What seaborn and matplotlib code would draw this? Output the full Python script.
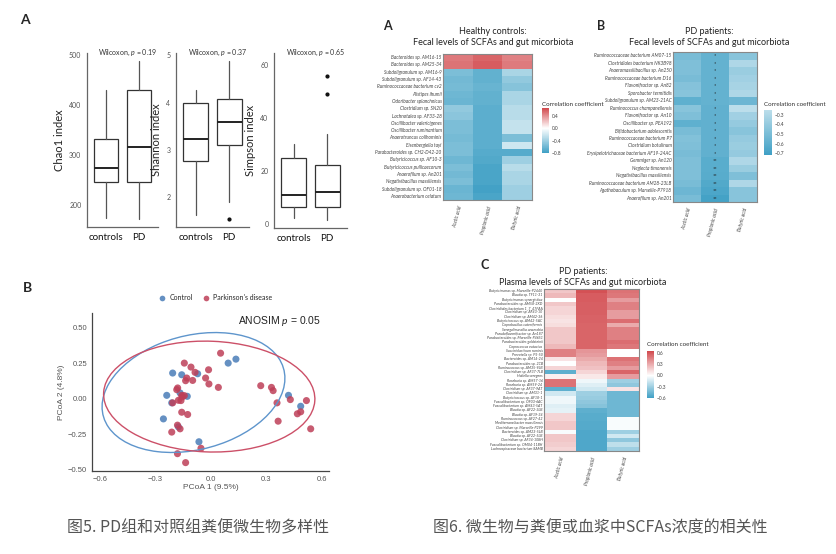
import numpy as np
import pandas as pd
import matplotlib
matplotlib.use("Agg")
import matplotlib.pyplot as plt
import seaborn as sns
from matplotlib.colors import LinearSegmentedColormap, ListedColormap
from matplotlib.patches import Ellipse

# ---- Fig 5A: alpha diversity (whisker low, q1, median, q3, whisker high) ----
groups = ["controls", "PD"]
chao1_ctrl = [173, 245, 273, 332, 430]
chao1_pd = [171, 245, 316, 431, 488]
shannon_ctrl = [1.62, 2.77, 3.23, 4.00, 4.26]
shannon_pd = [1.90, 3.10, 3.59, 4.08, 4.87]
shannon_pd_out = [1.53]
simpson_ctrl = [2.3, 6.4, 10.9, 24.8, 30.0]
simpson_pd = [1.5, 6.4, 12.0, 22.1, 34.0]
simpson_pd_out = [49.0, 56.0]
p_values = ["0.19", "0.37", "0.65"]

# ---- Fig 5B: PCoA ----
ctrl_x = [-0.207, -0.158, -0.072, 0.093, 0.135, -0.239, -0.212, -0.167, -0.128,
          -0.257, -0.176, -0.065, 0.419, 0.485]
ctrl_y = [0.180, 0.168, 0.175, 0.250, 0.278, 0.023, -0.030, 0.040, 0.016,
          -0.143, -0.199, -0.304, 0.023, -0.054]
pd_x = [0.052, -0.144, -0.108, -0.086, -0.131, -0.137, -0.099, -0.013, -0.029,
        -0.011, 0.040, -0.185, -0.180, -0.158, -0.155, -0.176, -0.162, -0.207,
        -0.144, -0.158, -0.126, -0.181, -0.167, -0.212, -0.181, -0.054, -0.137,
        0.269, 0.327, 0.336, 0.357, 0.363, 0.429, 0.467, 0.485, 0.516, 0.539]
pd_y = [0.320, 0.250, 0.222, 0.185, 0.145, 0.126, 0.128, 0.203, 0.145,
        0.103, 0.079, 0.063, 0.075, 0.023, 0.012, -0.012, -0.014, -0.030,
        0.021, -0.096, -0.112, -0.187, -0.213, -0.236, -0.388, -0.350, -0.451,
        0.091, 0.079, 0.056, -0.030, -0.159, -0.007, -0.107, -0.093, -0.014, -0.213]

# ---- Fig 6: correlation heatmaps ----
acids = ["Acetic acid", "Propionic acid", "Butyric acid"]

hc_rows = ["Bacteroides sp. AM16-15", "Bacteroides sp. AM25-34", "Subdoligranulum sp. AM16-9",
           "Subdoligranulum sp. AF14-43", "Ruminococcaceae bacterium cv2", "Alistipes ihumii",
           "Odoribacter splanchnicus", "Clostridium sp. SN20", "Lachnotalea sp. AF33-28",
           "Oscillibacter valericigenes", "Oscillibacter ruminantium", "Anaerotruncus colihominis",
           "Eisenbergiella tayi", "Parabacteroides sp. CH2-D42-20", "Butyricicoccus sp. AF10-3",
           "Butyricicoccus pullicaecorum", "Anaerofilum sp. An201", "Negativibacillus massiliensis",
           "Subdoligranulum sp. OF01-18", "Anaerobacterium celatum"]
hc_acetic = [0.48, 0.50, -0.55, -0.58, -0.57, -0.60, -0.62, -0.45, -0.48, -0.55,
             -0.55, -0.57, -0.55, -0.55, -0.60, -0.55, -0.58, -0.55, -0.62, -0.60]
hc_propionic = [0.55, 0.58, -0.65, -0.65, -0.63, -0.65, -0.65, -0.68, -0.68, -0.68,
                -0.68, -0.68, -0.68, -0.70, -0.72, -0.75, -0.75, -0.75, -0.78, -0.75]
hc_butyric = [0.45, 0.47, -0.35, -0.45, -0.50, -0.35, -0.35, -0.30, -0.30, -0.25,
              -0.25, -0.55, -0.20, -0.70, -0.40, -0.30, -0.35, -0.35, -0.40, -0.40]

pdf_rows = ["Ruminococcaceae bacterium AM07-15", "Clostridiales bacterium NK3B98",
            "Anaeromassilibacillus sp. An250", "Ruminococcaceae bacterium D16",
            "Flavonifractor sp. An82", "Sporobacter termitidis", "Subdoligranulum sp. AM23-21AC",
            "Ruminococcus champanellensis", "Flavonifractor sp. An10", "Oscillibacter sp. PEA192",
            "Bifidobacterium adolescentis", "Ruminococcaceae bacterium P7", "Clostridium botulinum",
            "Erysipelotrichaceae bacterium AF19-24AC", "Gemmiger sp. An120", "Neglecta timonensis",
            "Negativibacillus massiliensis", "Ruminococcaceae bacterium AM28-23LB",
            "Agathobaculum sp. Marseille-P7918", "Anaerofilum sp. An201"]
pdf_acetic = [-0.50, -0.48, -0.48, -0.50, -0.46, -0.45, -0.60, -0.45, -0.48, -0.60,
              -0.50, -0.47, -0.48, -0.50, -0.48, -0.48, -0.48, -0.50, -0.55, -0.50]
pdf_propionic = [-0.58, -0.58, -0.58, -0.58, -0.58, -0.58, -0.58, -0.59, -0.59, -0.59,
                 -0.59, -0.59, -0.59, -0.59, -0.62, -0.62, -0.63, -0.65, -0.67, -0.70]
pdf_butyric = [-0.45, -0.30, -0.38, -0.35, -0.33, -0.30, -0.55, -0.25, -0.35, -0.40,
               -0.45, -0.40, -0.38, -0.40, -0.30, -0.38, -0.48, -0.30, -0.45, -0.45]
pdf_stars = ["*", "*", "*", "*", "*", "*", "*", "*", "*", "*", "*", "*", "*", "*",
             "**", "**", "**", "**", "**", "**"]

plasma_rows = ["Butyricimonas sp. Marseille-P2440", "Blautia sp. TF11-31", "Butyricimonas synergistica",
               "Parabacteroides sp. AM58-2XD", "Clostridiales bacterium 1_7_47FAA", "Clostridium sp. AF43-10",
               "Clostridium sp. AM42-36", "Butyricicoccus sp. AM42-5AC", "Coprobacillus cateniformis",
               "Senegalimassilia anaerobia", "Pseudoflavonifractor sp. An187",
               "Parabacteroides sp. Marseille-P4651", "Parabacteroides goldsteinii", "Coprococcus eutactus",
               "Succiniclasticum ruminis", "Prevotella sp. P5-50", "Bacteroides sp. AM14-24",
               "Parabacteroides sp. 2CB", "Ruminococcus sp. AM35-9LB", "Clostridium sp. AF37-7LB",
               "Hallella seregens", "Roseburia sp. AM57-16", "Roseburia sp. AM59-24",
               "Clostridium sp. AF37-9AT", "Clostridium sp. AM31-1", "Butyricicoccus sp. AF18-1",
               "Faecalibacterium sp. OF03-6AC", "Faecalibacterium sp. AM43-5AT", "Blautia sp. AF22-3LB",
               "Blautia sp. AF19-34", "Ruminococcus sp. AF27-42", "Mediterraneibacter massiliensis",
               "Clostridium sp. Marseille-P299", "Bacteroides sp. AM23-5LB", "Blautia sp. AF22-5LB",
               "Clostridium sp. AF34-10BH", "Faecalibacterium sp. OM04-11BH",
               "Lachnospiraceae bacterium 8AMB"]
plasma_acetic = [0.20, 0.25, 0.00, 0.20, 0.15, 0.15, 0.12, 0.10, 0.12, 0.20,
                 0.20, 0.20, 0.20, 0.25, 0.45, 0.45, 0.10, 0.00, 0.15, -0.50,
                 0.05, 0.50, 0.50, -0.50, -0.15, -0.05, -0.05, -0.10, -0.08, 0.15,
                 0.15, 0.20, 0.20, -0.02, 0.20, 0.20, 0.18, 0.15]
plasma_propionic = [0.62, 0.58, 0.58, 0.57, 0.57, 0.57, 0.56, 0.56, 0.55, 0.55,
                    0.55, 0.55, 0.55, 0.55, 0.38, 0.35, 0.30, 0.25, 0.22, 0.15,
                    0.08, -0.05, -0.10, -0.15, -0.30, -0.32, -0.35, -0.38, -0.50, -0.52,
                    -0.52, -0.53, -0.53, -0.55, -0.55, -0.55, -0.55, -0.55]
plasma_butyric = [0.50, 0.48, 0.35, 0.45, 0.45, 0.35, 0.35, 0.52, 0.30, 0.45,
                  0.45, 0.45, 0.52, 0.48, 0.00, 0.00, 0.50, 0.45, 0.35, 0.55,
                  0.35, -0.30, -0.35, 0.10, -0.45, -0.45, -0.45, -0.45, -0.45, -0.45,
                  -0.02, -0.02, -0.02, -0.30, -0.15, -0.35, -0.20, -0.30]

captions = ["图5. PD组和对照组粪便微生物多样性", "图6. 微生物与粪便或血浆中SCFAs浓度的相关性"]

# ---------------------------------------------------------------------------
sns.set_theme(style="white")
plt.rcParams["font.family"] = ["Lato", "Noto Sans CJK SC", "DejaVu Sans"]
plt.rcParams["mathtext.fontset"] = "custom"
plt.rcParams["mathtext.it"] = "Lato:italic"

W, H = 837, 554
fig = plt.figure(figsize=(W / 100, H / 100), dpi=100)
fig.patch.set_facecolor("white")


def box(l, t, r, b):
    return [l / W, 1 - b / H, (r - l) / W, (b - t) / H]


def ftext(x, y, s, **kw):
    fig.text(x / W, 1 - y / H, s, **kw)


# ---- boxplots ----
def stats(v, fliers=()):
    return dict(whislo=v[0], q1=v[1], med=v[2], q3=v[3], whishi=v[4], fliers=list(fliers))


panels = [
    ((87, 53, 158, 227), [stats(chao1_ctrl), stats(chao1_pd)], (155, 505), [200, 300, 400, 500], "Chao1 index"),
    ((176, 53, 249, 227), [stats(shannon_ctrl), stats(shannon_pd, shannon_pd_out)], (1.36, 5.05), [2, 3, 4, 5], "Shannon index"),
    ((274, 53, 347, 228), [stats(simpson_ctrl), stats(simpson_pd, simpson_pd_out)], (-1.5, 64.5), [0, 20, 40, 60], "Simpson index"),
]
for (rect, st, ylim, yt, ylab), pv in zip(panels, p_values):
    ax = fig.add_axes(box(*rect))
    ax.bxp(st, positions=[0, 1], widths=0.75, showcaps=False, patch_artist=True,
           boxprops=dict(facecolor="white", edgecolor="#333333", linewidth=0.9),
           whiskerprops=dict(color="#555555", linewidth=0.9),
           medianprops=dict(color="#222222", linewidth=1.4),
           flierprops=dict(marker="o", markersize=2, markerfacecolor="#111111", markeredgecolor="#111111"))
    ax.set_xlim(-0.6, 1.6)
    ax.set_ylim(*ylim)
    ax.set_yticks(yt)
    ax.set_xticks([0, 1])
    ax.set_xticklabels(groups, fontsize=7, color="#111111")
    ax.tick_params(axis="y", labelsize=5, colors="#555555", length=2, width=0.6, pad=2)
    ax.tick_params(axis="x", length=2, width=0.6, pad=2)
    ax.set_ylabel(ylab, fontsize=8, color="#222222", labelpad=3)
    for s in ["top", "right"]:
        ax.spines[s].set_visible(False)
    for s in ["left", "bottom"]:
        ax.spines[s].set_color("#666666")
        ax.spines[s].set_linewidth(0.9)
    ax.text(-0.25, 1.0, r"Wilcoxon, $p$ = " + pv, transform=ax.get_xaxis_transform(),
            fontsize=5, color="#333333", ha="left", va="center", clip_on=False)
    ax.patch.set_alpha(0)

ftext(25, 20, "A", fontsize=10, fontweight="bold", ha="center", va="center")
ftext(28, 288, "B", fontsize=10, fontweight="bold", ha="center", va="center")

# ---- PCoA scatter ----
c_blue, c_red = "#4A7DB8", "#BE3F58"
pcoa = pd.DataFrame({
    "PC1": ctrl_x + pd_x,
    "PC2": ctrl_y + pd_y,
    "group": ["Control"] * len(ctrl_x) + ["Parkinson's disease"] * len(pd_x),
})
axs = fig.add_axes(box(92, 313, 329, 471))
sns.scatterplot(data=pcoa, x="PC1", y="PC2", hue="group", palette=[c_blue, c_red],
                s=26, alpha=0.85, edgecolor="none", ax=axs)


def cov_trob(X, nu=5, iters=100):
    # robust t covariance, as used by ggplot2::stat_ellipse (type = "t")
    n, p = X.shape
    w = np.ones(n)
    for _ in range(iters):
        mu = (w[:, None] * X).sum(0) / w.sum()
        D = X - mu
        S = (w[:, None] * D).T @ D / n
        d = np.einsum("ij,jk,ik->i", D, np.linalg.inv(S), D)
        w = (nu + p) / (nu + d)
    return mu, S


# sqrt(2 * qf(0.95, 2, n - 1)) for n = 14 and n = 37
radius = {"Control": np.sqrt(2 * 3.806), "Parkinson's disease": np.sqrt(2 * 3.259)}
for g, col in [("Control", "#5E95CC"), ("Parkinson's disease", "#CC5068")]:
    sub = pcoa[pcoa.group == g][["PC1", "PC2"]].to_numpy()
    mu, S = cov_trob(sub)
    vals, vecs = np.linalg.eigh(S)
    ang = np.degrees(np.arctan2(vecs[1, 1], vecs[0, 1]))
    r = radius[g]
    axs.add_patch(Ellipse(mu, 2 * r * np.sqrt(vals[1]), 2 * r * np.sqrt(vals[0]), angle=ang,
                          fill=False, edgecolor=col, linewidth=1.0))

axs.set_xlim(-0.643, 0.638)
axs.set_ylim(-0.51, 0.603)
axs.set_xticks([-0.6, -0.3, 0.0, 0.3, 0.6])
axs.set_xticklabels(["\u22120.6", "\u22120.3", "0.0", "0.3", "0.6"])
axs.set_yticks([0.5, 0.25, 0.0, -0.25, -0.5])
axs.set_yticklabels(["0.50", "0.25", "0.00", "\u22120.25", "\u22120.50"])
axs.tick_params(labelsize=5.5, colors="#555555", length=2, width=0.6, pad=1.5)
for t in axs.get_xticklabels() + axs.get_yticklabels():
    t.set_fontfamily(["Liberation Sans", "DejaVu Sans"])
axs.set_xlabel("PCoA 1 (9.5%)", fontsize=6, color="#555555", labelpad=1,
               fontfamily=["Liberation Sans", "DejaVu Sans"])
axs.set_ylabel("PCoA 2 (4.8%)", fontsize=6, color="#555555", labelpad=2,
               fontfamily=["Liberation Sans", "DejaVu Sans"])
for s in ["top", "right"]:
    axs.spines[s].set_visible(False)
for s in ["left", "bottom"]:
    axs.spines[s].set_color("#444444")
    axs.spines[s].set_linewidth(0.9)
axs.text(0.145, 0.548, r"ANOSIM $p$ = 0.05", fontsize=7.5, color="#222222", ha="left", va="center",
         fontfamily=["Liberation Sans", "DejaVu Sans"])
sns.move_legend(axs, "center", bbox_to_anchor=(214 / W, 1 - 298 / H), bbox_transform=fig.transFigure,
                ncol=2, title=None, frameon=False, fontsize=5, handletextpad=0.1,
                columnspacing=0.8, markerscale=0.8)
axs.patch.set_alpha(0)

# ---- heatmaps ----
base = LinearSegmentedColormap.from_list("rb", ["#40A0C5", "#FFFFFF", "#D24A4E"])


def sub_cmap(lo, hi, m_neg, m_pos):
    # white-centred gradient, each side scaled to its own limit, cut to [lo, hi]
    pos = np.linspace(lo, hi, 256)
    frac = np.where(pos < 0, 0.5 + pos / (2 * m_neg), 0.5 + pos / (2 * m_pos))
    return ListedColormap(base(np.clip(frac, 0, 1)))


def heat(rect, crect, vals, rows, lo, hi, mn, mp, ticks, tlabels, title, tpos, ctpos,
         rowsize, annot=None):
    ax = fig.add_axes(box(*rect))
    cax = fig.add_axes(box(*crect))
    df = pd.DataFrame(np.array(vals).T, index=rows, columns=acids)
    sns.heatmap(df, ax=ax, cbar_ax=cax, cmap=sub_cmap(lo, hi, mn, mp), vmin=lo, vmax=hi,
                annot=annot, fmt="", annot_kws={"size": 4, "color": "#222222"},
                cbar_kws={"ticks": ticks})
    ax.set_yticks(np.arange(len(rows)) + 0.5)
    ax.set_yticklabels(rows, fontsize=rowsize, style="italic", color="#444444", rotation=0)
    ax.set_xticklabels(acids, fontsize=3.5, style="italic", color="#444444", rotation=75,
                       ha="right", rotation_mode="anchor")
    ax.tick_params(length=0, pad=1)
    ax.tick_params(axis="x", pad=4)
    for s in ax.spines.values():
        s.set_visible(True)
        s.set_color("#888888")
        s.set_linewidth(0.8)
    cax.set_yticklabels(tlabels)
    cax.tick_params(labelsize=3.5, colors="#444444", length=0, pad=2)
    cax.set_frame_on(False)
    ftext(tpos[0], tpos[1], title, fontsize=6.5, ha="center", va="center",
          linespacing=1.35, color="#222222")
    ftext(ctpos[0], ctpos[1], "Correlation coefficient", fontsize=4.5, ha="left",
          va="center", color="#333333")


heat((443, 54, 532, 200), (542, 108, 549, 153), [hc_acetic, hc_propionic, hc_butyric], hc_rows,
     -0.8, 0.65, 0.8, 0.65, [0.4, 0.0, -0.4, -0.8], ["0.4", "0.0", "\u22120.4", "\u22120.8"],
     "Healthy controls:\nFecal levels of SCFAs and gut micorbiota", (493, 37), (542, 104), 3.4)

stars = np.array([[""] * len(pdf_rows), pdf_stars, [""] * len(pdf_rows)]).T
heat((673, 52, 757, 202), (764, 110, 772, 155), [pdf_acetic, pdf_propionic, pdf_butyric], pdf_rows,
     -0.72, -0.25, 0.72, 0.72, [-0.3, -0.4, -0.5, -0.6, -0.7],
     ["\u22120.3", "\u22120.4", "\u22120.5", "\u22120.6", "\u22120.7"],
     "PD patients:\nFecal levels of SCFAs and gut micorbiota", (709, 37), (764, 104), 3.4,
     annot=stars)

heat((544, 289, 639, 451), (647, 351, 654, 398), [plasma_acetic, plasma_propionic, plasma_butyric],
     plasma_rows, -0.6, 0.65, 0.6, 0.65, [0.6, 0.3, 0.0, -0.3, -0.6],
     ["0.6", "0.3", "0.0", "\u22120.3", "\u22120.6"],
     "PD patients:\nPlasma levels of SCFAs and gut micorbiota", (583, 277), (647, 344), 2.6)

ftext(387, 26, "A", fontsize=9, fontweight="bold", ha="center", va="center")
ftext(601, 26, "B", fontsize=9, fontweight="bold", ha="center", va="center")
ftext(485, 265, "C", fontsize=9, fontweight="bold", ha="center", va="center")

# ---- captions ----
ftext(198, 528, captions[0], fontsize=11.5, color="#555555", ha="center", va="center",
      fontfamily=["Noto Sans CJK SC", "DejaVu Sans"])
ftext(600, 528, captions[1], fontsize=11.5, color="#555555", ha="center", va="center",
      fontfamily=["Noto Sans CJK SC", "DejaVu Sans"])

fig.savefig("out.png", dpi=100)
